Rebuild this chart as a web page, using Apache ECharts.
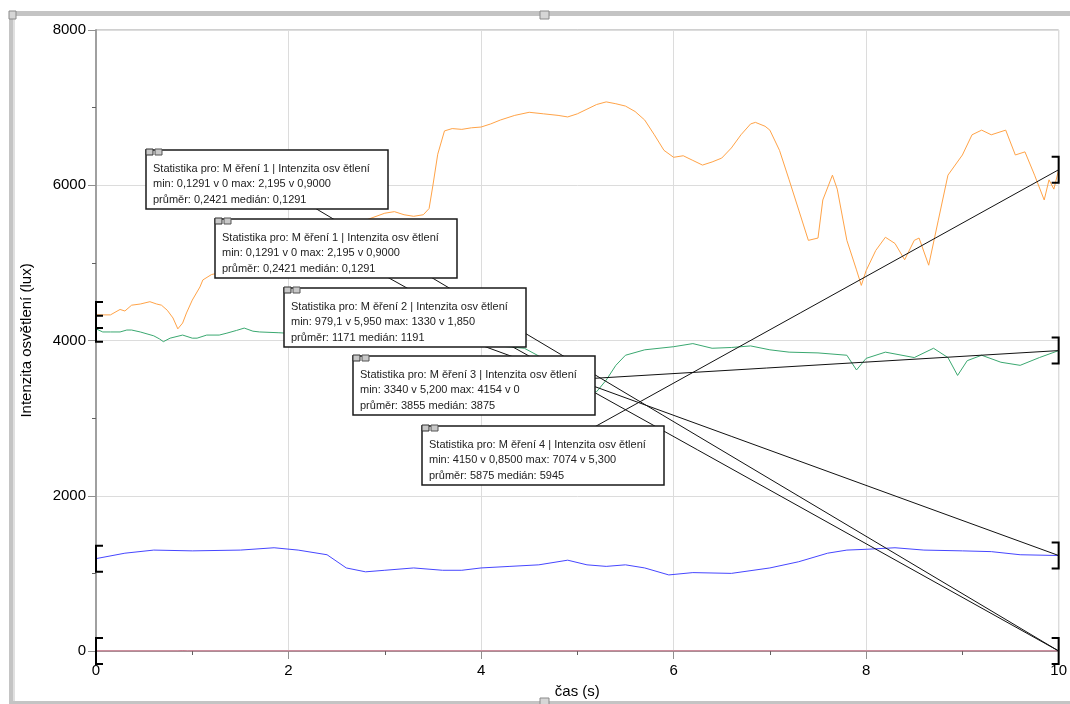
<!DOCTYPE html>
<html>
<head>
<meta charset="utf-8">
<script src="https://cdn.jsdelivr.net/npm/echarts@6/dist/echarts.min.js"></script>
<style>
  html, body { margin: 0; padding: 0; background: #fff; }
  #chart { width: 1070px; height: 704px; }
</style>
</head>
<body>
<div id="chart"></div>
<script>
// Měření 1 (red) - practically zero
const m1Time = [0, 0.85, 0.9, 0.95, 10];
const m1Value = [0.1291, 0.1291, 2.195, 0.1291, 0.1291];

// Měření 2 (blue)
const m2Time = [0, 0.3, 0.6, 1.0, 1.5, 1.85, 2.1, 2.4, 2.6, 2.8, 3.0, 3.3, 3.6, 3.8, 4.0, 4.3, 4.6, 4.9, 5.1, 5.3, 5.5, 5.7, 5.95, 6.2, 6.6, 7.0, 7.3, 7.6, 7.8, 8.0, 8.3, 8.6, 9.0, 9.3, 9.6, 10];
const m2Value = [1190, 1260, 1300, 1290, 1300, 1330, 1300, 1240, 1070, 1020, 1040, 1070, 1040, 1040, 1070, 1090, 1110, 1170, 1110, 1090, 1110, 1070, 980, 1010, 1000, 1070, 1150, 1260, 1300, 1310, 1330, 1300, 1290, 1280, 1240, 1230];

// Měření 3 (green)
const m3Time = [0, 0.07, 0.15, 0.25, 0.32, 0.37, 0.46, 0.53, 0.6, 0.66, 0.7, 0.77, 0.9, 1.0, 1.05, 1.15, 1.28, 1.36, 1.46, 1.54, 1.63, 1.7, 1.9, 2.2, 2.5, 3.0, 3.5, 4.0, 4.45, 4.6, 4.8, 5.0, 5.2, 5.3, 5.4, 5.5, 5.7, 6.0, 6.2, 6.4, 6.6, 6.8, 7.0, 7.2, 7.5, 7.8, 7.9, 8.0, 8.2, 8.5, 8.7, 8.85, 8.95, 9.05, 9.2, 9.4, 9.6, 9.8, 10];
const m3Value = [4150, 4110, 4110, 4110, 4135, 4135, 4110, 4085, 4060, 4020, 3985, 4030, 4070, 4030, 4030, 4070, 4070, 4095, 4130, 4160, 4120, 4110, 4100, 4080, 4050, 4000, 3980, 3950, 3900, 3800, 3650, 3450, 3340, 3490, 3680, 3810, 3880, 3920, 3960, 3900, 3910, 3930, 3880, 3850, 3840, 3810, 3620, 3770, 3850, 3780, 3900, 3780, 3550, 3740, 3810, 3720, 3680, 3780, 3870];

// Měření 4 (orange)
const m4Time = [0, 0.07, 0.15, 0.25, 0.3, 0.37, 0.46, 0.56, 0.63, 0.68, 0.74, 0.8, 0.85, 0.9, 0.94, 1.0, 1.08, 1.11, 1.2, 1.4, 1.6, 1.8, 2.0, 2.2, 2.4, 2.6, 2.8, 3.0, 3.1, 3.2, 3.3, 3.4, 3.46, 3.5, 3.55, 3.62, 3.7, 3.8, 3.9, 4.0, 4.1, 4.2, 4.35, 4.5, 4.65, 4.8, 4.9, 5.0, 5.1, 5.2, 5.3, 5.4, 5.5, 5.6, 5.7, 5.8, 5.9, 6.0, 6.1, 6.2, 6.3, 6.4, 6.5, 6.6, 6.7, 6.8, 6.85, 6.95, 7.0, 7.1, 7.2, 7.3, 7.4, 7.5, 7.55, 7.65, 7.7, 7.8, 7.9, 7.95, 8.0, 8.1, 8.2, 8.3, 8.4, 8.5, 8.55, 8.65, 8.75, 8.85, 9.0, 9.1, 9.2, 9.3, 9.45, 9.55, 9.65, 9.75, 9.85, 9.9, 9.95, 10];
const m4Value = [4330, 4330, 4330, 4400, 4380, 4455, 4470, 4500, 4470, 4455, 4390, 4290, 4150, 4225, 4355, 4520, 4690, 4780, 4850, 4900, 5000, 5050, 5150, 5250, 5350, 5450, 5550, 5640, 5660, 5620, 5600, 5620, 5700, 6000, 6400, 6700, 6730, 6720, 6740, 6750, 6790, 6840, 6900, 6940, 6920, 6900, 6880, 6920, 6980, 7040, 7074, 7050, 7020, 6950, 6840, 6650, 6450, 6360, 6380, 6320, 6260, 6300, 6350, 6480, 6650, 6790, 6810, 6760, 6710, 6450, 6070, 5680, 5290, 5320, 5810, 6130, 5950, 5290, 4910, 4710, 4900, 5160, 5330, 5250, 5040, 5290, 5320, 4970, 5550, 6130, 6390, 6650, 6710, 6650, 6710, 6390, 6430, 6130, 5810, 6070, 5950, 6200];

const xTicks = [0, 2, 4, 6, 8, 10];
const yTicks = [0, 2000, 4000, 6000, 8000];

// statistics boxes text
const boxTitles = [
    'Statistika pro: M ěření 1 | Intenzita osv ětlení',
    'Statistika pro: M ěření 1 | Intenzita osv ětlení',
    'Statistika pro: M ěření 2 | Intenzita osv ětlení',
    'Statistika pro: M ěření 3 | Intenzita osv ětlení',
    'Statistika pro: M ěření 4 | Intenzita osv ětlení',
];
const boxMinMax = [
    'min: 0,1291 v 0 max: 2,195 v 0,9000',
    'min: 0,1291 v 0 max: 2,195 v 0,9000',
    'min: 979,1 v 5,950 max: 1330 v 1,850',
    'min: 3340 v 5,200 max: 4154 v 0',
    'min: 4150 v 0,8500 max: 7074 v 5,300',
];
const boxMean = [
    'průměr: 0,2421 medián: 0,1291',
    'průměr: 0,2421 medián: 0,1291',
    'průměr: 1171 medián: 1191',
    'průměr: 3855 medián: 3875',
    'průměr: 5875 medián: 5945',
];
// which measurement each box belongs to (index into series list)
const boxSeries = [0, 0, 1, 2, 3];

const series = [
    {name: 'Měření 1', time: m1Time, value: m1Value, color: '#c8506e'},
    {name: 'Měření 2', time: m2Time, value: m2Value, color: '#4646ff'},
    {name: 'Měření 3', time: m3Time, value: m3Value, color: '#3aa870'},
    {name: 'Měření 4', time: m4Time, value: m4Value, color: '#ffa347'},
];

// box layout (pixels)
const boxPos = [[146, 150], [215, 219], [284, 288], [353, 356], [422, 426]];
const boxW = 242;
const boxH = 59;
const boxFont = '11px "Liberation Sans", Arial';

function zip(t, v) {
    return t.map((x, i) => [x, v[i]]);
}

function makeOption() {
    const lineSeries = series.map((s) => ({
        name: s.name,
        type: 'line',
        data: zip(s.time, s.value),
        showSymbol: false,
        smooth: false,
        lineStyle: {color: s.color, width: 1},
        itemStyle: {color: s.color},
        z: 3,
        animation: false,
    }));

    // brackets at both ends of every measurement
    const bracketData = [];
    series.forEach((s) => {
        bracketData.push([s.time[0], s.value[0]]);
        bracketData.push([s.time[s.time.length - 1], s.value[s.value.length - 1]]);
    });

    const bracketSeries = {
        type: 'custom',
        data: bracketData,
        clip: false,
        z: 5,
        animation: false,
        renderItem: (params, api) => {
            const p = api.coord([api.value(0), api.value(1)]);
            const dir = api.value(0) === 0 ? 1 : -1;
            return {
                type: 'polyline',
                shape: {
                    points: [
                        [p[0] + dir * 7, p[1] - 13],
                        [p[0], p[1] - 13],
                        [p[0], p[1] + 13],
                        [p[0] + dir * 7, p[1] + 13],
                    ],
                },
                style: {stroke: '#000', lineWidth: 2, fill: null},
            };
        },
    };

    // leader lines from box centres to the end of the measurement
    const leaderData = boxSeries.map((si, bi) => {
        const s = series[si];
        return [s.time[s.time.length - 1], s.value[s.value.length - 1], bi];
    });

    const leaderSeries = {
        type: 'custom',
        data: leaderData,
        clip: false,
        z: 6,
        animation: false,
        renderItem: (params, api) => {
            const end = api.coord([api.value(0), api.value(1)]);
            const b = boxPos[api.value(2)];
            return {
                type: 'line',
                shape: {x1: b[0] + boxW / 2, y1: b[1] + boxH / 2, x2: end[0], y2: end[1]},
                style: {stroke: '#111', lineWidth: 1},
            };
        },
    };

    // stat boxes (each later box on top of the previous one)
    const boxes = [];
    boxPos.forEach((b, i) => {
        const z = 100 + i * 2;
        boxes.push(
            {type: 'rect', x: b[0], y: b[1], z: z, shape: {x: 0, y: 0, width: boxW, height: boxH},
                style: {fill: '#fff', stroke: '#1a1a1a', lineWidth: 1.5}},
            {type: 'rect', x: b[0], y: b[1], z: z + 1, shape: {x: 0, y: -1, width: 7, height: 6},
                style: {fill: '#c8c8c8', stroke: '#333', lineWidth: 1}},
            {type: 'rect', x: b[0], y: b[1], z: z + 1, shape: {x: 9, y: -1, width: 7, height: 6},
                style: {fill: '#c8c8c8', stroke: '#555', lineWidth: 1}},
            {type: 'text', x: b[0] + 7, y: b[1] + 19, z: z + 1,
                style: {text: boxTitles[i], fill: '#222', font: boxFont, verticalAlign: 'middle'}},
            {type: 'text', x: b[0] + 7, y: b[1] + 34, z: z + 1,
                style: {text: boxMinMax[i], fill: '#222', font: boxFont, verticalAlign: 'middle'}},
            {type: 'text', x: b[0] + 7, y: b[1] + 50, z: z + 1,
                style: {text: boxMean[i], fill: '#222', font: boxFont, verticalAlign: 'middle'}},
        );
    });

    // window frame & handles
    const frame = [
        {type: 'rect', shape: {x: 9, y: 11, width: 1061, height: 5}, style: {fill: '#c4c4c4'}, z: 90},
        {type: 'rect', shape: {x: 9, y: 11, width: 4, height: 693}, style: {fill: '#c4c4c4'}, z: 90},
        {type: 'rect', shape: {x: 13, y: 16, width: 2, height: 688}, style: {fill: '#e0e0e0'}, z: 90},
        {type: 'rect', shape: {x: 9, y: 701, width: 1061, height: 3}, style: {fill: '#c4c4c4'}, z: 90},
        {type: 'rect', shape: {x: 9, y: 11, width: 7, height: 8}, style: {fill: '#d6d6d6', stroke: '#8a8a8a', lineWidth: 1}, z: 91},
        {type: 'rect', shape: {x: 540, y: 11, width: 9, height: 8}, style: {fill: '#d6d6d6', stroke: '#8a8a8a', lineWidth: 1}, z: 91},
        {type: 'rect', shape: {x: 540, y: 698, width: 9, height: 8}, style: {fill: '#d6d6d6', stroke: '#8a8a8a', lineWidth: 1}, z: 91},
    ];

    return {
        animation: false,
        backgroundColor: '#fff',
        textStyle: {fontFamily: '"Liberation Sans", Arial, sans-serif'},
        grid: {
            left: 96, right: 10, top: 30, bottom: 53,
            show: true, borderColor: '#a0a0a0', borderWidth: 1,
        },
        xAxis: {
            type: 'value',
            min: xTicks[0],
            max: xTicks[xTicks.length - 1],
            interval: 2,
            name: 'čas (s)',
            nameLocation: 'middle',
            nameGap: 33,
            nameTextStyle: {color: '#000', fontSize: 15},
            axisLine: {show: true, lineStyle: {color: '#a0a0a0'}},
            axisTick: {show: true, length: 8, lineStyle: {color: '#909090'}},
            minorTick: {show: true, splitNumber: 2, length: 4, lineStyle: {color: '#606060'}},
            axisLabel: {color: '#000', fontSize: 15, margin: 12},
            splitLine: {show: true, lineStyle: {color: '#dcdcdc'}},
        },
        yAxis: {
            type: 'value',
            min: yTicks[0],
            max: yTicks[yTicks.length - 1],
            interval: 2000,
            name: 'Intenzita osvětlení (lux)',
            nameLocation: 'middle',
            nameGap: 62,
            nameTextStyle: {color: '#000', fontSize: 15},
            axisLine: {show: true, lineStyle: {color: '#a0a0a0', width: 2}},
            axisTick: {show: true, length: 8, lineStyle: {color: '#909090'}},
            minorTick: {show: true, splitNumber: 2, length: 4, lineStyle: {color: '#606060'}},
            axisLabel: {color: '#000', fontSize: 15, margin: 10, formatter: (v) => String(v)},
            splitLine: {show: true, lineStyle: {color: '#dcdcdc'}},
        },
        series: [...lineSeries, bracketSeries, leaderSeries],
        graphic: {elements: [...frame, ...boxes]},
    };
}

function main() {
    const chart = echarts.init(document.getElementById('chart'), null, {renderer: 'canvas'});
    chart.setOption(makeOption());
}

main();
</script>
</body>
</html>
